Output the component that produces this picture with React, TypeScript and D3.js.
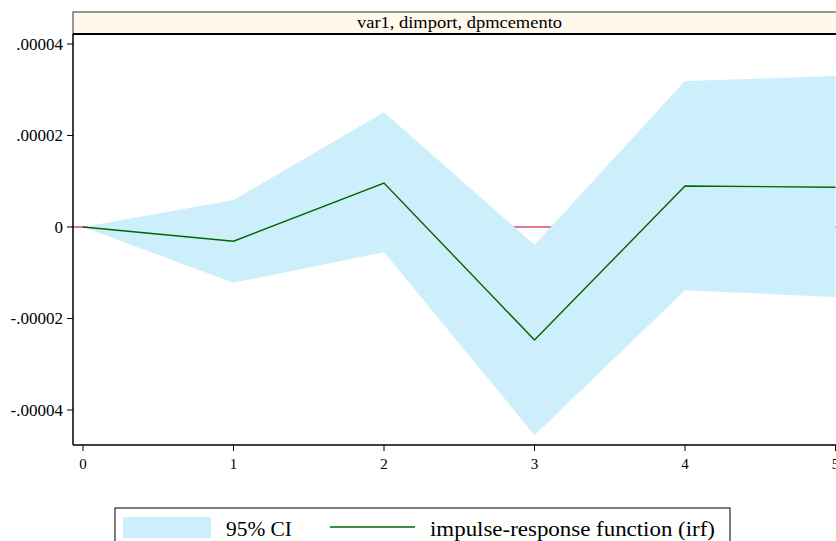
import React from "react";
import * as d3 from "d3";

const steps = [0, 1, 2, 3, 4, 5];
const irf = [0, -3.1e-6, 9.6e-6, -24.7e-6, 8.95e-6, 8.7e-6];
const ciUpper = [0, 5.9e-6, 25.1e-6, -3.9e-6, 31.9e-6, 33.0e-6];
const ciLower = [0, -12.2e-6, -5.5e-6, -45.5e-6, -13.8e-6, -15.3e-6];
const yTicks = [4e-5, 2e-5, 0, -2e-5, -4e-5];
const yTickLabels = [".00004", ".00002", "0", "-.00002", "-.00004"];
const xTickLabels = ["0", "1", "2", "3", "4", "5"];
const panelTitle = "var1, dimport, dpmcemento";
const legendLabels = ["95% CI", "impulse-response function (irf)"];

const W = 836;
const H = 541;
const plotLeft = 73;
const plotRight = 846;
const plotTop = 34;
const plotBottom = 445;
const headerTop = 12;
const FONT = "Liberation Serif";

export default function App() {
  const x = d3.scaleLinear().domain([0, 5]).range([83, 835.5]);
  const y = d3.scaleLinear().domain([-2e-5, 2e-5]).range([318.5, 135.5]);

  const rows = steps.map((s, i) => ({ s, irf: irf[i], lo: ciLower[i], hi: ciUpper[i] }));
  const area = d3
    .area<any>()
    .x((d) => x(d.s))
    .y0((d) => y(d.lo))
    .y1((d) => y(d.hi));
  const line = d3
    .line<any>()
    .x((d) => x(d.s))
    .y((d) => y(d.irf));

  return (
    <svg
      width={W}
      height={H}
      style={{ position: "absolute", left: 0, top: 0, background: "#fff", fontFamily: FONT }}
    >
      <rect x={0} y={0} width={W} height={H} fill="#ffffff" />
      <defs>
        <clipPath id="plotclip">
          <rect x={plotLeft} y={plotTop} width={plotRight - plotLeft} height={plotBottom - plotTop} />
        </clipPath>
      </defs>
      {/* header strip */}
      <rect
        x={plotLeft}
        y={headerTop}
        width={plotRight - plotLeft}
        height={plotTop - headerTop}
        fill="#fff8ec"
        stroke="#333"
        strokeWidth={1}
      />
      <text
        x={(plotLeft + plotRight) / 2}
        y={28}
        textAnchor="middle"
        fontSize={17}
        fontFamily={FONT}
        textLength={205}
        lengthAdjust="spacingAndGlyphs"
        fill="#000"
      >
        {panelTitle}
      </text>
      <g clipPath="url(#plotclip)">
        {/* zero reference line */}
        <line x1={plotLeft} x2={plotRight} y1={y(0)} y2={y(0)} stroke="#d9486e" strokeWidth={1.5} />
        <path d={area(rows) || ""} fill="#cdeffc" stroke="none" />
        <path d={line(rows) || ""} fill="none" stroke="#006400" strokeWidth={1.4} />
      </g>
      {/* header bottom border */}
      <line x1={plotLeft} x2={plotRight} y1={plotTop} y2={plotTop} stroke="#000" strokeWidth={2} />
      {/* y axis */}
      <line x1={plotLeft} x2={plotLeft} y1={plotTop} y2={plotBottom} stroke="#000" strokeWidth={1.5} />
      {yTicks.map((t, i) => (
        <g key={"y" + i}>
          <line x1={plotLeft - 6} x2={plotLeft} y1={y(t)} y2={y(t)} stroke="#000" strokeWidth={1} />
          <text
            x={plotLeft - 10}
            y={y(t) + 5.5}
            textAnchor="end"
            fontSize={17}
            fontFamily={FONT}
            fill="#000"
          >
            {yTickLabels[i]}
          </text>
        </g>
      ))}
      {/* x axis */}
      <line x1={plotLeft} x2={plotRight} y1={plotBottom} y2={plotBottom} stroke="#000" strokeWidth={1.5} />
      {steps.map((s, i) => (
        <g key={"x" + i}>
          <line x1={x(s)} x2={x(s)} y1={plotBottom} y2={plotBottom + 6} stroke="#000" strokeWidth={1} />
          <text
            x={x(s)}
            y={plotBottom + 24}
            textAnchor="middle"
            fontSize={15}
            fontFamily={FONT}
            fill="#000"
          >
            {xTickLabels[i]}
          </text>
        </g>
      ))}
      {/* legend */}
      <rect x={115} y={508} width={615} height={40} fill="#fff" stroke="#000" strokeWidth={1} />
      <rect x={123} y={517} width={88} height={21} fill="#cdeffc" />
      <text
        x={226}
        y={536}
        fontSize={21}
        fontFamily={FONT}
        textLength={66}
        lengthAdjust="spacingAndGlyphs"
        fill="#000"
      >
        {legendLabels[0]}
      </text>
      <line x1={330} x2={415} y1={527} y2={527} stroke="#006400" strokeWidth={1.5} />
      <text
        x={430}
        y={536}
        fontSize={21}
        fontFamily={FONT}
        textLength={285}
        lengthAdjust="spacingAndGlyphs"
        fill="#000"
      >
        {legendLabels[1]}
      </text>
    </svg>
  );
}
